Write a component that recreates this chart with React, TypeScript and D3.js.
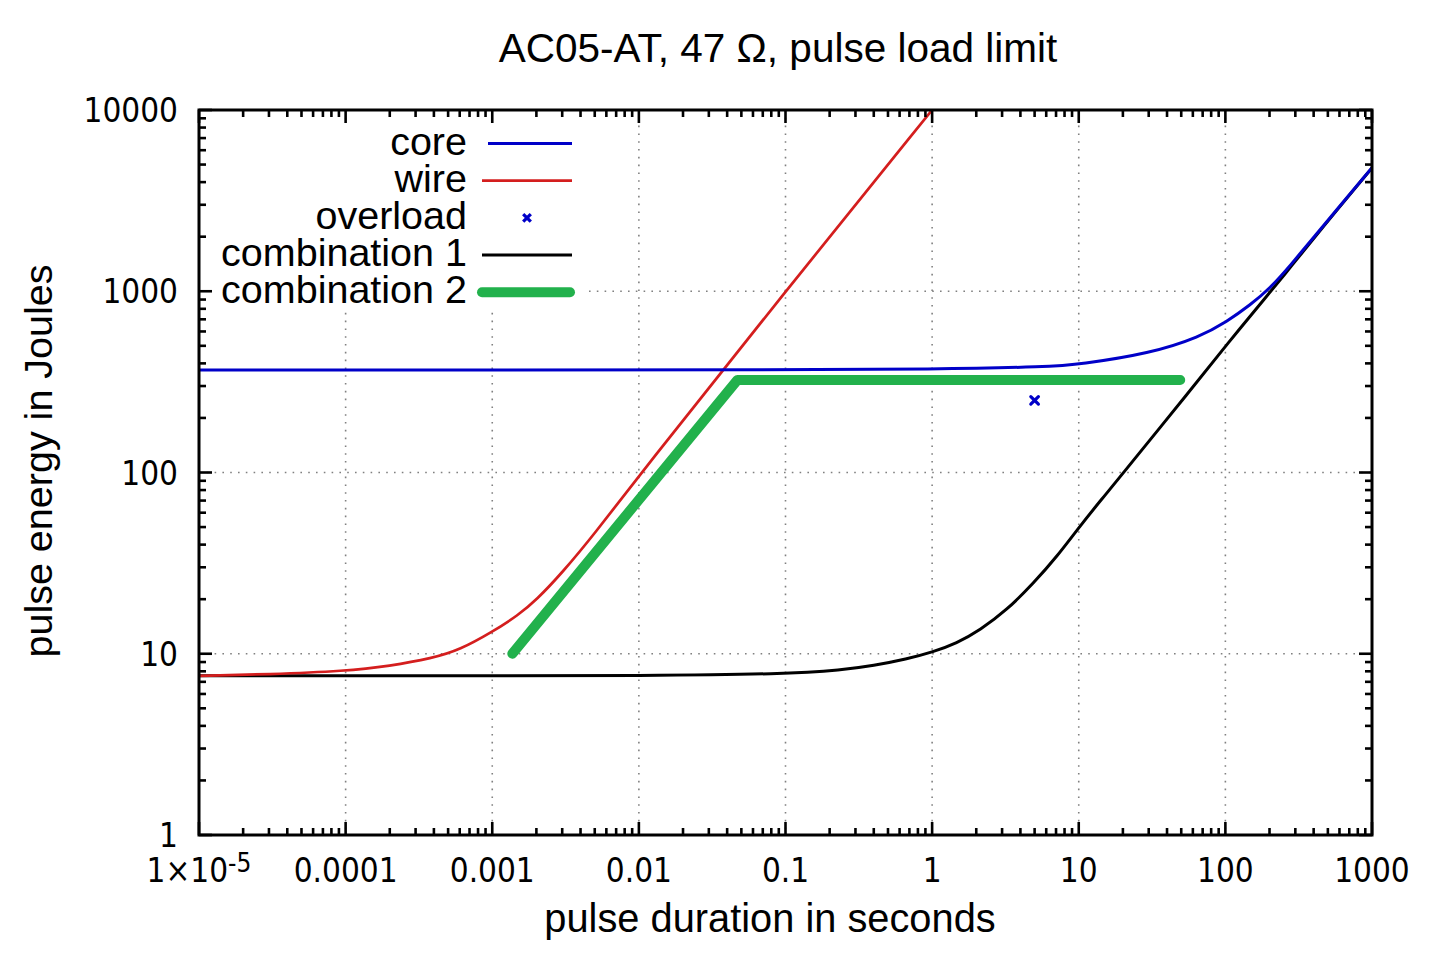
import React from "react";
import * as d3 from "d3";

// ---------- text ----------
const titleText = "AC05-AT, 47 Ω, pulse load limit";
const xAxisLabel = "pulse duration in seconds";
const yAxisLabel = "pulse energy in Joules";

// ---------- axes ----------
const xDomain: [number, number] = [1e-5, 1000];
const yDomain: [number, number] = [1, 10000];
const xTickValues = [1e-5, 1e-4, 1e-3, 1e-2, 1e-1, 1, 10, 100, 1000];
const xTickLabels = ["1×10^-5", "0.0001", "0.001", "0.01", "0.1", "1", "10", "100", "1000"];
const yTickValues = [1, 10, 100, 1000, 10000];
const yTickLabels = ["1", "10", "100", "1000", "10000"];
const minorMultipliers = [2, 3, 4, 5, 6, 7, 8, 9];

// ---------- series (seconds, Joules) ----------
const coreT = [1e-5, 1e-3, 0.1, 1, 6.38, 10, 30.7, 67.3, 102, 147.6, 202, 277, 443, 1000];
const coreE = [368, 368, 369, 371, 383, 395, 454, 561, 679, 839, 1040, 1385, 2190, 4800];

const wireT = [1e-5, 3e-5, 1e-4, 2e-4, 3.9e-4, 6e-4, 1e-3, 1.5e-3, 2e-3, 3e-3, 5e-3, 0.01, 0.1, 1];
const wireE = [7.55, 7.7, 8.03, 8.56, 9.44, 10.5, 13.2, 16.3, 19.8, 28, 46, 96, 1000, 10000];

const combo1T = [1e-5, 1e-3, 0.01, 0.1, 0.2426, 0.398, 0.672, 1, 1.472, 2.12, 3.23, 4.91, 7.09, 10.2, 14.7, 18.2, 60.3, 102, 202, 277, 443, 1000];
const combo1E = [7.55, 7.55, 7.57, 7.72, 8.13, 8.59, 9.35, 10.19, 11.42, 13.5, 17.4, 24.5, 34.3, 50.7, 73, 90, 297, 508, 990, 1352, 2170, 4790];

const combo2T = [0.00137, 0.047, 49.2];
const combo2E = [10, 324, 324];

const overloadT = [5];
const overloadE = [250];

const legendNames = ["core", "wire", "overload", "combination 1", "combination 2"];

// ---------- styles ----------
const W = 1429;
const H = 953;
const M = { left: 199, right: 1372, top: 110, bottom: 835 };
const BLUE = "#0000c8";
const RED = "#d41e1e";
const BLACK = "#000000";
const GREEN = "#22b14c";
const arial = "'Liberation Sans', Arial, sans-serif";
const tickFont = "'DejaVu Sans Condensed', 'DejaVu Sans', sans-serif";

const zip = (t: number[], e: number[]) => t.map((v, i) => ({ t: v, e: e[i] }));

export default function App() {
  const x = d3.scaleLog().domain(xDomain).range([M.left, M.right]);
  const y = d3.scaleLog().domain(yDomain).range([M.bottom, M.top]);

  const smooth = d3
    .line<{ t: number; e: number }>()
    .x((d) => x(d.t))
    .y((d) => y(d.e))
    .curve(d3.curveBasis);
  const straight = d3
    .line<{ t: number; e: number }>()
    .x((d) => x(d.t))
    .y((d) => y(d.e));

  const decadesX = xTickValues;
  const decadesY = yTickValues;
  const minorX: number[] = [];
  decadesX.slice(0, -1).forEach((d) => minorMultipliers.forEach((m) => minorX.push(d * m)));
  const minorY: number[] = [];
  decadesY.slice(0, -1).forEach((d) => minorMultipliers.forEach((m) => minorY.push(d * m)));

  const majorLen = 13;
  const minorLen = 7;

  const legendRowY = (i: number) => 143.5 + i * 37.2;

  const cross = (cx: number, cy: number, s: number, color: string, key: string) => (
    <g key={key} stroke={color} strokeWidth={3.2}>
      <line x1={cx - s} y1={cy - s} x2={cx + s} y2={cy + s} />
      <line x1={cx - s} y1={cy + s} x2={cx + s} y2={cy - s} />
    </g>
  );

  return (
    <svg
      width={W}
      height={H}
      style={{ position: "absolute", left: 0, top: 0, background: "#fff" }}
    >
      <rect x={0} y={0} width={W} height={H} fill="#fff" />
      <defs>
        <clipPath id="plotClip">
          <rect x={M.left} y={M.top} width={M.right - M.left} height={M.bottom - M.top} />
        </clipPath>
      </defs>

      {/* grid */}
      <g stroke="#808080" strokeWidth={1.6} strokeDasharray="1.6 6.2">
        {decadesX.slice(1, -1).map((v) => (
          <line key={"gx" + v} x1={x(v)} x2={x(v)} y1={M.top} y2={M.bottom} />
        ))}
        {decadesY.slice(1, -1).map((v) => (
          <line key={"gy" + v} x1={M.left} x2={M.right} y1={y(v)} y2={y(v)} />
        ))}
      </g>

      {/* legend background */}
      <rect x={213} y={122} width={372} height={190} fill="#fff" />

      {/* series */}
      <g clipPath="url(#plotClip)" fill="none" strokeLinecap="round" strokeLinejoin="round">
        <path d={smooth(zip(combo1T, combo1E)) || ""} stroke={BLACK} strokeWidth={3} />
        <path d={smooth(zip(wireT, wireE)) || ""} stroke={RED} strokeWidth={2.7} />
        <path d={smooth(zip(coreT, coreE)) || ""} stroke={BLUE} strokeWidth={3} />
        <path d={straight(zip(combo2T, combo2E)) || ""} stroke={GREEN} strokeWidth={10} />
        {zip(overloadT, overloadE).map((d, i) => cross(x(d.t), y(d.e), 3.8, BLUE, "ov" + i))}
      </g>

      {/* ticks on all four sides */}
      <g stroke="#000" strokeWidth={2.6}>
        {decadesX.map((v) => (
          <g key={"tx" + v}>
            <line x1={x(v)} x2={x(v)} y1={M.bottom} y2={M.bottom - majorLen} />
            <line x1={x(v)} x2={x(v)} y1={M.top} y2={M.top + majorLen} />
          </g>
        ))}
        {minorX.map((v) => (
          <g key={"mx" + v}>
            <line x1={x(v)} x2={x(v)} y1={M.bottom} y2={M.bottom - minorLen} />
            <line x1={x(v)} x2={x(v)} y1={M.top} y2={M.top + minorLen} />
          </g>
        ))}
        {decadesY.map((v) => (
          <g key={"ty" + v}>
            <line x1={M.left} x2={M.left + majorLen} y1={y(v)} y2={y(v)} />
            <line x1={M.right} x2={M.right - majorLen} y1={y(v)} y2={y(v)} />
          </g>
        ))}
        {minorY.map((v) => (
          <g key={"my" + v}>
            <line x1={M.left} x2={M.left + minorLen} y1={y(v)} y2={y(v)} />
            <line x1={M.right} x2={M.right - minorLen} y1={y(v)} y2={y(v)} />
          </g>
        ))}
      </g>

      {/* frame */}
      <rect
        x={M.left}
        y={M.top}
        width={M.right - M.left}
        height={M.bottom - M.top}
        fill="none"
        stroke="#000"
        strokeWidth={3}
      />

      {/* tick labels */}
      <g fontFamily={tickFont} fontSize={33} fill="#000" style={{ fontStretch: "condensed" }}>
        {xTickValues.map((v, i) => {
          const lab = xTickLabels[i];
          const parts = lab.split("^");
          return (
            <text key={"xl" + v} x={x(v)} y={882} textAnchor="middle">
              {parts[0]}
              {parts[1] ? (
                <tspan dy={-10} fontSize={26}>
                  {parts[1]}
                </tspan>
              ) : null}
            </text>
          );
        })}
        {yTickValues.map((v, i) => (
          <text key={"yl" + v} x={178} y={y(v) + 12} textAnchor="end">
            {yTickLabels[i]}
          </text>
        ))}
      </g>

      {/* title & axis labels */}
      <text x={778} y={62} textAnchor="middle" fontFamily={arial} fontSize={40.5}>
        {titleText}
      </text>
      <text x={770} y={932} textAnchor="middle" fontFamily={arial} fontSize={39.8}>
        {xAxisLabel}
      </text>
      <text
        transform={`translate(52,461) rotate(-90)`}
        textAnchor="middle"
        fontFamily={arial}
        fontSize={39.5}
      >
        {yAxisLabel}
      </text>

      {/* legend */}
      <g fontFamily={arial} fontSize={39.5}>
        {legendNames.map((name, i) => (
          <text key={"lt" + i} x={467} y={legendRowY(i) + 11} textAnchor="end">
            {name}
          </text>
        ))}
        <line x1={488} x2={572} y1={legendRowY(0)} y2={legendRowY(0)} stroke={BLUE} strokeWidth={3} />
        <line x1={482} x2={572} y1={legendRowY(1)} y2={legendRowY(1)} stroke={RED} strokeWidth={2.7} />
        {cross(527, legendRowY(2), 3.8, BLUE, "legov")}
        <line x1={482} x2={572} y1={legendRowY(3)} y2={legendRowY(3)} stroke={BLACK} strokeWidth={3} />
        <line
          x1={482}
          x2={570}
          y1={legendRowY(4)}
          y2={legendRowY(4)}
          stroke={GREEN}
          strokeWidth={10}
          strokeLinecap="round"
        />
      </g>
    </svg>
  );
}
